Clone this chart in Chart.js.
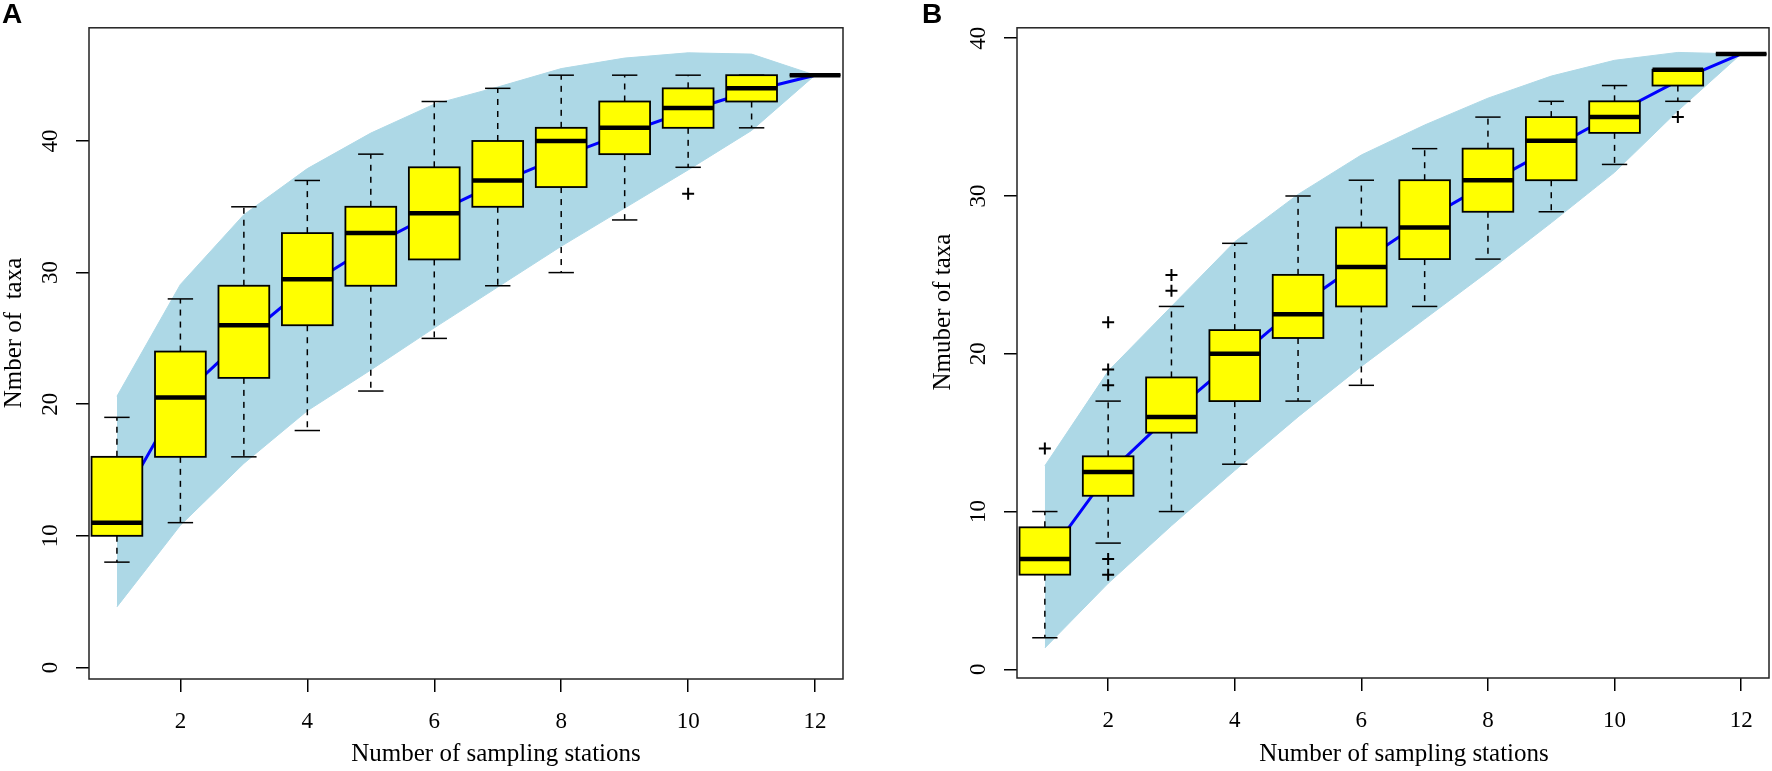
<!DOCTYPE html>
<html>
<head>
<meta charset="utf-8">
<title>Species accumulation boxplots</title>
<script src="https://cdn.jsdelivr.net/npm/chart.js@4.4.1/dist/chart.umd.min.js"></script>
<style>
  body { margin: 0; background: #fff; }
  #wrap { position: relative; width: 1772px; height: 771px; }
  canvas { position: absolute; top: 0; }
  #chartA { left: 0; }
  #chartB { left: 886px; }
</style>
</head>
<body>
<div id="wrap">
  <canvas id="chartA" width="886" height="771"></canvas>
  <canvas id="chartB" width="886" height="771"></canvas>
</div>
<script>
// shared axes
const stations = [1, 2, 3, 4, 5, 6, 7, 8, 9, 10, 11, 12];
const xTicks = [2, 4, 6, 8, 10, 12];
const yTicks = [0, 10, 20, 30, 40];
const xTitle = "Number of sampling stations";

// panel A
const aWhiskerHigh = [19, 28, 35, 37, 39, 43, 44, 45, 45, 45, 45, 45];
const aQ3 = [16, 24, 29, 33, 35, 38, 40, 41, 43, 44, 45, 45];
const aMedian = [11, 20.5, 26, 29.5, 33, 34.5, 37, 40, 41, 42.5, 44, 45];
const aQ1 = [10, 16, 22, 26, 29, 31, 35, 36.5, 39, 41, 43, 45];
const aWhiskerLow = [8, 11, 16, 18, 21, 25, 29, 30, 34, 38, 41, 45];
const aMean = [12, 20.5, 25, 29, 32, 34.5, 36.8, 38.8, 40.6, 42.3, 43.8, 45];
const aBandHigh = [20.6, 29.1, 34.4, 37.9, 40.6, 42.8, 44.1, 45.5, 46.3, 46.7, 46.6, 45];
const aBandLow = [4.6, 10.8, 15.5, 19.5, 22.6, 25.8, 28.9, 32, 34.9, 37.8, 40.8, 45];
const aOutlierStation = [10];
const aOutlierValue = [36];

// panel B
const bWhiskerHigh = [10, 17, 23, 27, 30, 31, 33, 35, 36, 37, 38, 39];
const bQ3 = [9, 13.5, 18.5, 21.5, 25, 28, 31, 33, 35, 36, 38, 39];
const bMedian = [7, 12.5, 16, 20, 22.5, 25.5, 28, 31, 33.5, 35, 38, 39];
const bQ1 = [6, 11, 15, 17, 21, 23, 26, 29, 31, 34, 37, 39];
const bWhiskerLow = [2, 8, 10, 13, 17, 18, 23, 26, 29, 32, 36, 39];
const bMean = [6.9, 12.4, 16.2, 19.6, 23, 25.8, 28.5, 30.8, 33, 35.2, 37.3, 39];
const bBandHigh = [12.9, 18.9, 23, 27.1, 30.1, 32.6, 34.5, 36.2, 37.6, 38.6, 39.1, 39];
const bBandLow = [1.35, 5.45, 9.1, 12.6, 16, 19.2, 22.2, 25.2, 28.3, 31.5, 35.4, 39];
const bOutlierStation = [1, 2, 2, 2, 2, 2, 3, 3, 11];
const bOutlierValue = [14, 18, 19, 22, 7, 6, 24, 25, 35];

const serif = "'Liberation Serif', 'Times New Roman', serif";

function pts(xs, ys) {
    return xs.map(function (x, i) { return { x: x, y: ys[i] }; });
}

function line(ctx, x1, y1, x2, y2) {
    ctx.beginPath();
    ctx.moveTo(x1, y1);
    ctx.lineTo(x2, y2);
    ctx.stroke();
}

// boxes, whiskers, frame and text drawn on top of the library's datasets
function panelPlugin(p) {
    return {
        id: "panel" + p.letter,
        afterDatasetsDraw(chart) {
            const ctx = chart.ctx;
            const x = chart.scales.x;
            const y = chart.scales.y;
            ctx.save();
            ctx.strokeStyle = "#000";
            stations.forEach(function (s, i) {
                const cx = x.getPixelForValue(s);
                const hw = x.getPixelForValue(s + 0.4) - cx;
                const sw = hw / 2;
                const yHi = y.getPixelForValue(p.high[i]);
                const yQ3 = y.getPixelForValue(p.q3[i]);
                const yMed = y.getPixelForValue(p.median[i]);
                const yQ1 = y.getPixelForValue(p.q1[i]);
                const yLo = y.getPixelForValue(p.low[i]);

                ctx.lineWidth = 1.5;
                ctx.setLineDash([6, 6]);
                if (yHi < yQ3) line(ctx, cx, yQ3, cx, yHi);
                if (yLo > yQ1) line(ctx, cx, yQ1, cx, yLo);
                ctx.setLineDash([]);
                line(ctx, cx - sw, yHi, cx + sw, yHi);
                line(ctx, cx - sw, yLo, cx + sw, yLo);

                ctx.fillStyle = "#FFFF00";
                ctx.fillRect(cx - hw, yQ3, 2 * hw, yQ1 - yQ3);
                ctx.lineWidth = 1.8;
                ctx.strokeRect(cx - hw, yQ3, 2 * hw, yQ1 - yQ3);

                ctx.lineWidth = 4.5;
                line(ctx, cx - hw, yMed, cx + hw, yMed);
            });
            ctx.restore();
        },
        afterDraw(chart) {
            const ctx = chart.ctx;
            const a = chart.chartArea;
            ctx.save();
            ctx.strokeStyle = "#222";
            ctx.lineWidth = 1.5;
            ctx.strokeRect(a.left, a.top, a.right - a.left, a.bottom - a.top);

            ctx.fillStyle = "#000";
            ctx.textAlign = "center";
            ctx.textBaseline = "alphabetic";
            ctx.font = "25px " + serif;
            ctx.fillText(xTitle, p.xTitleX, p.xTitleY);

            ctx.save();
            ctx.translate(p.yTitleX, p.yTitleY);
            ctx.rotate(-Math.PI / 2);
            ctx.textBaseline = "middle";
            ctx.fillText(p.yTitle, 0, 0);
            ctx.restore();

            ctx.font = "bold 28px 'Liberation Sans', Arial, sans-serif";
            ctx.textAlign = "left";
            ctx.textBaseline = "top";
            ctx.fillText(p.letter, p.letterX, 1);
            ctx.restore();
        }
    };
}

function makeChart(id, p) {
    const ctx = document.getElementById(id).getContext("2d");
    const outliers = pts(p.outStation, p.outValue);
    return new Chart(ctx, {
        type: "line",
        data: {
            datasets: [
                {
                    label: "Mean",
                    data: pts(stations, p.mean),
                    borderColor: "#0000FF",
                    borderWidth: 3,
                    pointRadius: 0,
                    tension: 0,
                    fill: false,
                },
                {
                    type: "scatter",
                    label: "Outliers",
                    data: outliers,
                    showLine: false,
                    pointStyle: "cross",
                    pointRadius: 6,
                    pointBorderWidth: 2,
                    pointBorderColor: "#000",
                    borderColor: "#000",
                },
                {
                    label: "Band high",
                    data: pts(stations, p.bandHigh),
                    borderColor: "#ADD8E6",
                    borderWidth: 1,
                    pointRadius: 0,
                    tension: 0,
                    fill: false,
                },
                {
                    label: "Band low",
                    data: pts(stations, p.bandLow),
                    borderColor: "#ADD8E6",
                    backgroundColor: "#ADD8E6",
                    borderWidth: 1,
                    pointRadius: 0,
                    tension: 0,
                    fill: "-1",
                },
            ],
        },
        options: {
            responsive: false,
            animation: false,
            events: [],
            layout: {
                autoPadding: false,
                padding: { top: p.padTop, right: p.padRight, left: 0, bottom: 0 },
            },
            plugins: {
                legend: { display: false },
                tooltip: { enabled: false },
            },
            scales: {
                x: {
                    type: "linear",
                    min: 0.56,
                    max: 12.44,
                    afterBuildTicks: function (s) { s.ticks = xTicks.map(function (v) { return { value: v }; }); },
                    afterFit: function (s) { s.height = p.xAxisHeight; },
                    border: { display: false },
                    grid: { drawOnChartArea: false, drawTicks: true, tickLength: 13, lineWidth: 1.5, tickWidth: 1.5, tickColor: "#000" },
                    ticks: { minRotation: 0, maxRotation: 0, padding: 16, color: "#000", font: { family: serif, size: 23 } },
                },
                y: {
                    type: "linear",
                    min: p.yMin,
                    max: p.yMax,
                    afterBuildTicks: function (s) { s.ticks = yTicks.map(function (v) { return { value: v }; }); },
                    afterFit: function (s) { s.width = p.yAxisWidth; },
                    border: { display: false },
                    grid: { drawOnChartArea: false, drawTicks: true, tickLength: 13, lineWidth: 1.5, tickWidth: 1.5, tickColor: "#000" },
                    ticks: { minRotation: 90, maxRotation: 90, crossAlign: "center", padding: 14, color: "#000", font: { family: serif, size: 23 } },
                },
            },
        },
        plugins: [panelPlugin(p)],
    });
}

makeChart("chartA", {
    letter: "A", letterX: 2,
    high: aWhiskerHigh, q3: aQ3, median: aMedian, q1: aQ1, low: aWhiskerLow,
    mean: aMean, bandHigh: aBandHigh, bandLow: aBandLow,
    outStation: aOutlierStation, outValue: aOutlierValue,
    yTitle: "Nmber of  taxa",
    yMin: -0.88, yMax: 48.6,
    padTop: 3, padRight: 43, yAxisWidth: 89, xAxisHeight: 92,
    xTitleX: 496, xTitleY: 761, yTitleX: 14, yTitleY: 333,
});

makeChart("chartB", {
    letter: "B", letterX: 36,
    high: bWhiskerHigh, q3: bQ3, median: bMedian, q1: bQ1, low: bWhiskerLow,
    mean: bMean, bandHigh: bBandHigh, bandLow: bBandLow,
    outStation: bOutlierStation, outValue: bOutlierValue,
    yTitle: "Nmuber of taxa",
    yMin: -0.55, yMax: 40.66,
    padTop: 5, padRight: 3, yAxisWidth: 131, xAxisHeight: 93,
    xTitleX: 518, xTitleY: 761, yTitleX: 57, yTitleY: 312,
});
</script>
</body>
</html>
